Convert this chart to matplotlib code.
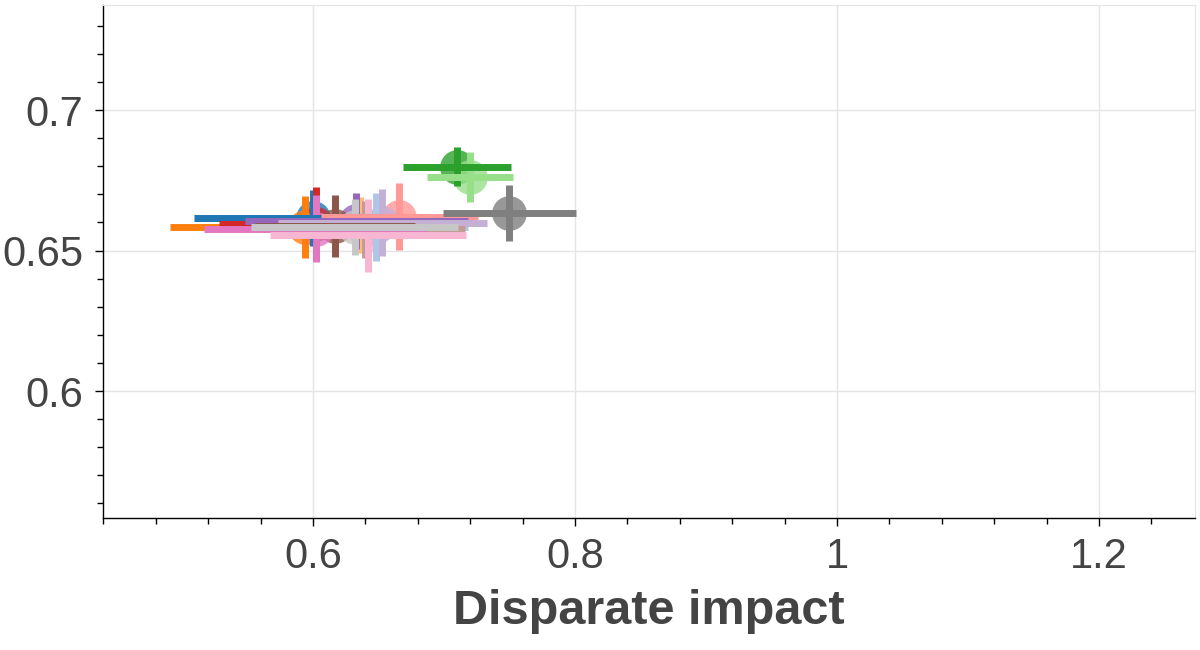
import matplotlib
matplotlib.use("Agg")
import matplotlib.pyplot as plt
from matplotlib.ticker import MultipleLocator, FuncFormatter

# one point per model, tab20 order (the last 4 colours are not used)
disp_impact = [0.600, 0.648, 0.594, 0.636, 0.710, 0.720, 0.602, 0.666,
               0.633, 0.653, 0.617, 0.640, 0.602, 0.642, 0.750, 0.632]
disp_err = [0.091, 0.070, 0.103, 0.080, 0.041, 0.033, 0.074, 0.060,
            0.085, 0.080, 0.061, 0.076, 0.085, 0.075, 0.051, 0.079]
accuracy = [0.6616, 0.6584, 0.6584, 0.6590, 0.6799, 0.6761, 0.6595, 0.6621,
            0.6604, 0.6599, 0.6587, 0.6575, 0.6578, 0.6555, 0.6633, 0.6585]
acc_err = [0.010, 0.012, 0.011, 0.010, 0.007, 0.009, 0.013, 0.012,
           0.010, 0.012, 0.011, 0.010, 0.012, 0.013, 0.010, 0.010]

colors = [plt.cm.tab20(i) for i in range(len(disp_impact))]

x_ticks = [0.6, 0.8, 1.0, 1.2]
y_ticks = [0.6, 0.65, 0.7]

fig = plt.figure(figsize=(12, 6.5), dpi=100)
ax = fig.add_axes([0.0858, 0.2031, 0.91, 0.7892])

# circles at the bottom, then all the vertical bars, then all the horizontal ones
for x, y, c in zip(disp_impact, accuracy, colors):
    ax.plot(x, y, "o", ms=25, color=c, alpha=0.8, mec="none", zorder=2)
for x, y, e, c in zip(disp_impact, accuracy, acc_err, colors):
    ax.vlines(x, y - e, y + e, color=c, lw=5, zorder=3)
for x, y, e, c in zip(disp_impact, accuracy, disp_err, colors):
    ax.hlines(y, x - e, x + e, color=c, lw=5, zorder=4)

ax.set_xlim(0.4397, 1.2733)
ax.set_ylim(0.5548, 0.7374)
ax.set_xticks(x_ticks)
ax.set_yticks(y_ticks)
ax.xaxis.set_minor_locator(MultipleLocator(0.04))
ax.yaxis.set_minor_locator(MultipleLocator(0.01))
fmt = FuncFormatter(lambda v, _: f"{v:g}")
ax.xaxis.set_major_formatter(fmt)
ax.yaxis.set_major_formatter(fmt)

ax.grid(True, which="major", color="#e5e5e5", lw=1, zorder=0)
ax.set_axisbelow(True)
for side in ("top", "right"):
    ax.spines[side].set_color("#e5e5e5")
for side in ("left", "bottom"):
    ax.spines[side].set_color("black")
    ax.spines[side].set_linewidth(1)

ax.tick_params(which="major", length=6, width=1, color="black", pad=8,
               labelsize=30, labelcolor="#444444")
ax.tick_params(which="minor", length=4, width=1, color="black")
for lab in ax.get_xticklabels() + ax.get_yticklabels():
    lab.set_family("Liberation Sans")

ax.set_xlabel("Disparate impact", fontsize=35, fontweight="bold",
              color="#444444", family="Liberation Sans", labelpad=8)

fig.savefig("out.png", dpi=100)
